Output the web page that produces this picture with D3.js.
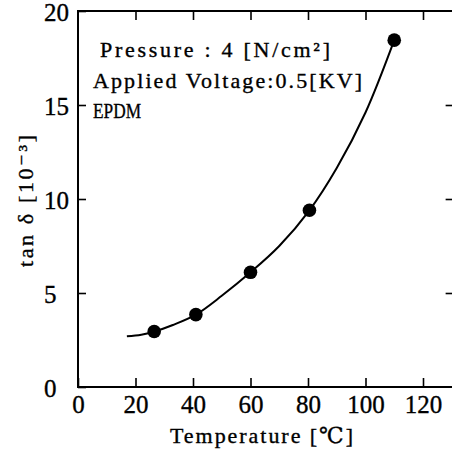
<!DOCTYPE html>
<html>
<head>
<meta charset="utf-8">
<script src="https://cdn.jsdelivr.net/npm/d3@7"></script>
<style>
  html, body { margin: 0; padding: 0; background: #fff; }
  svg { display: block; }
  text { stroke: #000; stroke-width: 0.35px; }
</style>
</head>
<body>
<svg id="chart" width="452" height="453"></svg>
<script>
// ---- data ----
const temperature = [26.5, 41, 60, 80.5, 110];
const tanDelta    = [2.95, 3.85, 6.1, 9.4, 18.45];
// hand-drawn fitted curve
const curveTemp = [17, 22, 26.5, 33, 41, 50, 60, 70, 80.5, 90, 100, 110];
const curveTan  = [2.7, 2.78, 2.95, 3.3, 3.85, 4.85, 6.1, 7.5, 9.4, 11.65, 14.6, 18.45];
const xTicks = [0, 20, 40, 60, 80, 100, 120];
const yTicks = [0, 5, 10, 15, 20];
const annotations = ["Pressure : 4 [N/cm²]", "Applied Voltage:0.5[KV]", "EPDM"];
const xTitle = "Temperature [℃]";
const yTitle = "tan δ [10⁻³]";

(function () {
const svg = d3.select("#chart");
const x = d3.scaleLinear().domain([0, 120]).range([78, 423]);
const y = d3.scaleLinear().domain([0, 20]).range([387, 11]);
const xMax = 131;

const serif = "'Liberation Serif', 'DejaVu Serif', serif";

// frame
svg.append("path")
  .attr("d", `M${x(xMax)},${y(20)}H${x(0)}V${y(0)}H${x(xMax)}V${y(20)}`)
  .attr("stroke", "#000").attr("stroke-width", 2).attr("fill", "none");

// bottom axis (ticks inward)
const bottomAx = svg.append("g").attr("transform", `translate(0,${y(0)})`)
  .call(d3.axisBottom(x).tickValues(xTicks).tickSizeInner(-9).tickSizeOuter(0).tickPadding(11));
bottomAx.select(".domain").remove();
bottomAx.selectAll("line").attr("stroke-width", 1.6);
bottomAx.selectAll("text").attr("font-family", serif).attr("font-size", 25).attr("fill", "#000")
  .attr("dy", "0.6em");

// top ticks
const topAx = svg.append("g").attr("transform", `translate(0,${y(20)})`)
  .call(d3.axisTop(x).tickValues(xTicks.filter(d => d > 0)).tickSizeInner(-9).tickSizeOuter(0).tickFormat(""));
topAx.select(".domain").remove();
topAx.selectAll("line").attr("stroke-width", 1.6);

// left axis
const leftAx = svg.append("g").attr("transform", `translate(${x(0)},0)`)
  .call(d3.axisLeft(y).tickValues(yTicks).tickSizeInner(-8).tickSizeOuter(0));
leftAx.select(".domain").remove();
leftAx.selectAll("line").attr("stroke-width", 1.6);
leftAx.selectAll("text").attr("font-family", serif).attr("font-size", 25).attr("fill", "#000")
  .attr("text-anchor", "start").attr("x", 44 - x(0)).attr("dy", "0.36em");

// right ticks
const rightAx = svg.append("g").attr("transform", `translate(${x(xMax)},0)`)
  .call(d3.axisRight(y).tickValues(yTicks.filter(d => d > 0 && d < 20)).tickSizeInner(-9).tickSizeOuter(0).tickFormat(""));
rightAx.select(".domain").remove();
rightAx.selectAll("line").attr("stroke-width", 1.6);

// curve
const line = d3.line().x(d => x(d[0])).y(d => y(d[1])).curve(d3.curveCatmullRom.alpha(0.5));
svg.append("path")
  .datum(curveTemp.map((t, i) => [t, curveTan[i]]))
  .attr("d", line).attr("fill", "none").attr("stroke", "#000").attr("stroke-width", 2);

// points
svg.append("g").selectAll("circle")
  .data(temperature.map((t, i) => [t, tanDelta[i]]))
  .join("circle")
  .attr("cx", d => x(d[0])).attr("cy", d => y(d[1])).attr("r", 6.8).attr("fill", "#000");

// annotations
const annPos = [[100, 57, 230, "spacing"], [93, 88, 269, "spacing"], [93, 118, 48, "spacingAndGlyphs"]];
svg.append("g").selectAll("text")
  .data(annotations)
  .join("text")
  .attr("x", (d, i) => annPos[i][0]).attr("y", (d, i) => annPos[i][1])
  .attr("textLength", (d, i) => annPos[i][2]).attr("lengthAdjust", (d, i) => annPos[i][3])
  .attr("font-family", serif).attr("font-size", 22).attr("fill", "#000")
  .text(d => d);

// axis titles
svg.append("text").attr("x", 170).attr("y", 443)
  .attr("font-family", serif).attr("font-size", 22).attr("fill", "#000")
  .attr("textLength", 183).attr("lengthAdjust", "spacing")
  .text(xTitle);

svg.append("text").attr("transform", "translate(33,267) rotate(-90)")
  .attr("font-family", serif).attr("font-size", 22).attr("fill", "#000")
  .attr("textLength", 132).attr("lengthAdjust", "spacing")
  .text(yTitle);
})();
</script>
</body>
</html>
